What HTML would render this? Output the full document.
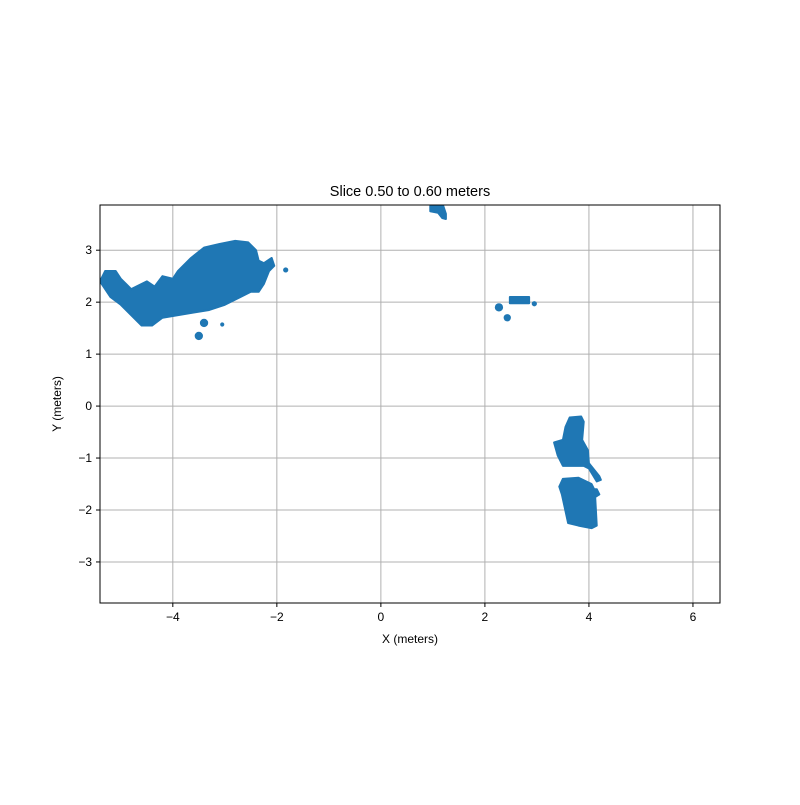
<!DOCTYPE html>
<html><head><meta charset="utf-8"><style>body{margin:0;background:#fff}svg{font-family:"Liberation Sans",sans-serif}</style></head>
<body>
<svg id="c" width="800" height="800"></svg>
<script>
const xTicks=[-4,-2,0,2,4,6];
const yTicks=[-3,-2,-1,0,1,2,3];
const xDomain=[-5.4,6.52];
const yDomain=[-3.79,3.87];
const blobs=[
[[-5.40,2.40],[-5.2,2.1],[-5.0,1.95],[-4.8,1.75],[-4.6,1.55],[-4.4,1.55],[-4.2,1.7],[-3.9,1.75],[-3.6,1.8],[-3.3,1.85],[-3.0,1.95],[-2.7,2.1],[-2.5,2.2],[-2.35,2.2],[-2.25,2.35],[-2.15,2.6],[-2.05,2.7],[-2.1,2.85],[-2.25,2.75],[-2.35,2.8],[-2.4,3.0],[-2.55,3.15],[-2.8,3.18],[-3.1,3.12],[-3.4,3.05],[-3.65,2.85],[-3.9,2.6],[-4.0,2.45],[-4.2,2.5],[-4.35,2.3],[-4.5,2.4],[-4.8,2.25],[-5.0,2.45],[-5.1,2.6],[-5.3,2.6],[-5.35,2.5]],
[[0.95,3.85],[1.2,3.85],[1.25,3.7],[1.25,3.6],[1.18,3.62],[1.1,3.72],[0.95,3.75]],
[[2.48,2.1],[2.85,2.1],[2.85,1.98],[2.48,1.98]],
[[3.63,-0.22],[3.85,-0.2],[3.9,-0.3],[3.87,-0.65],[3.98,-0.85],[4.0,-1.1],[4.2,-1.35],[4.23,-1.42],[4.15,-1.45],[4.0,-1.2],[3.9,-1.15],[3.5,-1.15],[3.4,-0.95],[3.33,-0.7],[3.5,-0.65],[3.55,-0.4]],
[[3.5,-1.4],[3.8,-1.38],[4.05,-1.5],[4.1,-1.6],[4.15,-1.6],[4.2,-1.7],[4.12,-1.75],[4.15,-2.3],[4.05,-2.35],[3.8,-2.3],[3.6,-2.25],[3.48,-1.7],[3.43,-1.55]]
];
const dotX=[-3.40,-3.5,-3.05,-1.83,2.27,2.43,2.95];
const dotY=[1.6,1.35,1.57,2.62,1.9,1.7,1.97];
const dotR=[0.08,0.08,0.04,0.05,0.08,0.07,0.05];
const L=100,R=720,T=205,B=603;
const sx=v=>L+(v-xDomain[0])/(xDomain[1]-xDomain[0])*(R-L);
const sy=v=>B-(v-yDomain[0])/(yDomain[1]-yDomain[0])*(B-T);
const svg=document.getElementById('c');const NS='http://www.w3.org/2000/svg';
function mk(t,a,p){const e=document.createElementNS(NS,t);for(const k in a)e.setAttribute(k,a[k]);(p||svg).appendChild(e);return e;}
const t=mk('text',{x:410,y:196,'text-anchor':'middle','font-size':14.5});t.textContent='Slice 0.50 to 0.60 meters';


const cl=mk('clipPath',{id:'cp'});mk('rect',{x:L,y:T,width:R-L,height:B-T},cl);
xTicks.forEach(v=>{const x=sx(v);
const g=mk('line',{x1:x,x2:x,y1:T,y2:B,stroke:'#b0b0b0','stroke-width':1});


mk('line',{x1:x,x2:x,y1:B,y2:B+4,stroke:'#000'});
const l=mk('text',{x:x,y:B+18,'text-anchor':'middle','font-size':12});l.textContent=(v<0?'−':'')+Math.abs(v);

});
yTicks.forEach(v=>{const y=sy(v);
const g=mk('line',{x1:L,x2:R,y1:y,y2:y,stroke:'#b0b0b0','stroke-width':1});


mk('line',{x1:L-4,x2:L,y1:y,y2:y,stroke:'#000'});
const l=mk('text',{x:L-8,y:y+4,'text-anchor':'end','font-size':12});l.textContent=(v<0?'−':'')+Math.abs(v);

});
const gp=mk('g',{'clip-path':'url(#cp)'});


blobs.forEach(b=>{const p=mk('polygon',{points:b.map(q=>sx(q[0])+','+sy(q[1])).join(' '),fill:'#1f77b4',stroke:'#1f77b4','stroke-width':2,'stroke-linejoin':'round'},gp);

});
dotX.forEach((v,i)=>{const c=mk('circle',{cx:sx(v),cy:sy(dotY[i]),r:dotR[i]*52,fill:'#1f77b4'},gp);

});
const fr=mk('rect',{x:L,y:T,width:R-L,height:B-T,fill:'none',stroke:'#000','stroke-width':1});


const xl=mk('text',{x:410,y:643,'text-anchor':'middle','font-size':12});xl.textContent='X (meters)';


const yl=mk('text',{x:61,y:404,'text-anchor':'middle','font-size':12,transform:'rotate(-90 61 404)'});yl.textContent='Y (meters)';


</script>
</body></html>
